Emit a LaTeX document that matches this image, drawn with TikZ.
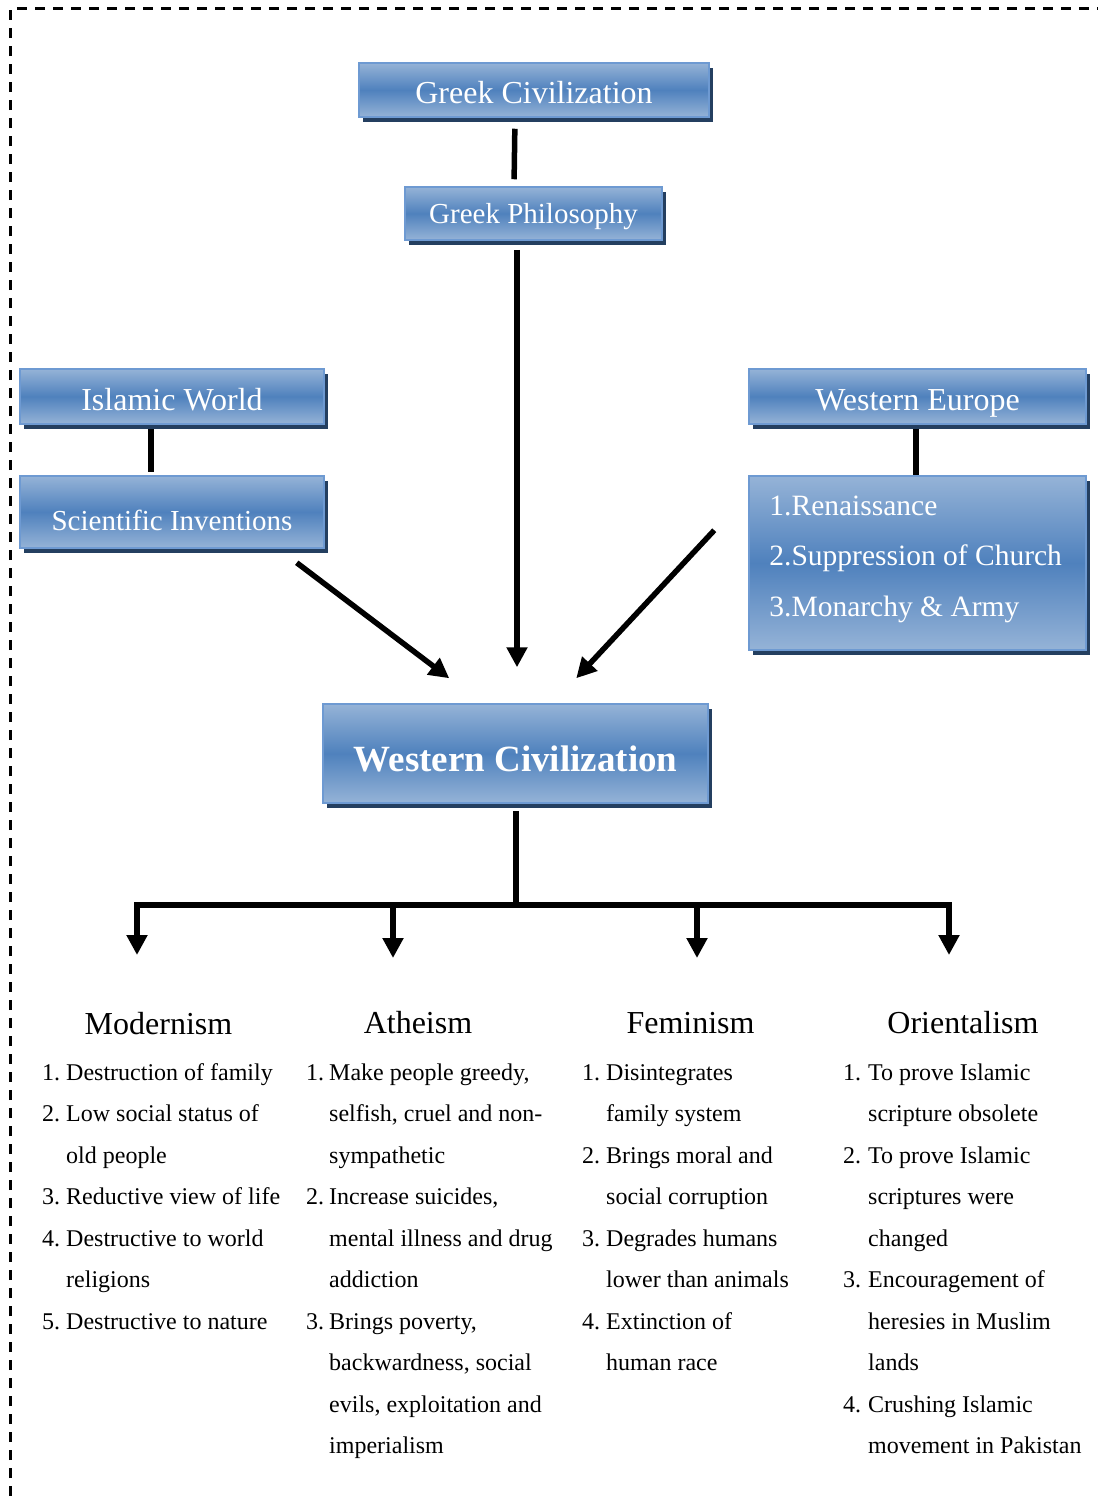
\documentclass[tikz,border=0pt]{standalone}
\usepackage{fontspec}
\setmainfont{Liberation Serif}
\usetikzlibrary{arrows.meta,shadows,calc}
\definecolor{bxlight}{HTML}{95B3D7}
\definecolor{bxdark}{HTML}{4F81BD}
\definecolor{bxedge}{HTML}{6E9AD2}
\definecolor{bxshadow}{HTML}{243F60}
\newcommand{\lstnum}[2][24pt]{\makebox[#1][l]{#2}}
\newcommand{\lstind}[1][24pt]{\hspace*{#1}}
\begin{document}
\begin{tikzpicture}[x=1pt,y=1pt,
  bluebox/.style={draw=bxedge, line width=1.5pt, top color=bxlight, bottom color=bxlight, middle color=bxdark,
    text=white, inner sep=0pt, text depth=0pt,
    general shadow={fill=bxshadow, shadow xshift=4pt, shadow yshift=-5pt}},
  conn/.style={line width=5.5pt},
  arr/.style={line width=5.5pt, -{Triangle[length=20pt,width=20pt]}},
  head/.style={font=\fontsize{32}{38}\selectfont, anchor=base, inner sep=0pt},
  lst/.style={font=\fontsize{24}{41.5}\selectfont, anchor=base west, inner sep=0pt},
  frame/.style={line width=3pt, dash pattern=on 10pt off 8pt}
]
\useasboundingbox (0,0) rectangle (1098,-1496);
\draw[frame] (10,-1496) -- (10,-9) -- (1098,-9);

% boxes
\node[bluebox, minimum width=350pt, minimum height=54pt, text height=27pt, font=\fontsize{32}{38}\selectfont] (gc) at (534,-90) {Greek Civilization};
\node[bluebox, minimum width=257pt, minimum height=53pt, text height=20pt, font=\fontsize{29}{34}\selectfont] (gp) at (533.5,-213.5) {Greek Philosophy};
\node[bluebox, minimum width=304pt, minimum height=55pt, text height=28pt, font=\fontsize{32}{38}\selectfont] (iw) at (172,-396.5) {Islamic World};
\node[bluebox, minimum width=304pt, minimum height=72pt, text height=37pt, font=\fontsize{29}{34}\selectfont] (si) at (172,-512) {Scientific Inventions};
\node[bluebox, minimum width=337pt, minimum height=55pt, text height=28pt, font=\fontsize{32}{38}\selectfont] (we) at (917.5,-396.5) {Western Europe};
\node[bluebox, minimum width=337pt, minimum height=174pt] (wel) at (917.5,-563) {};
\node[anchor=base west, inner sep=0pt, text=white, font=\fontsize{29.5}{50.5}\selectfont] (welt) at ([shift={(21pt,-40pt)}]wel.north west)
  {\parbox[t]{310pt}{\raggedright 1.Renaissance\\ 2.Suppression of Church\\ 3.Monarchy \& Army}};
\node[bluebox, minimum width=385pt, minimum height=99pt, text height=35pt, font=\fontsize{37}{44}\selectfont\bfseries] (wc) at (515.5,-753.5) {Western Civilization};

% connectors
\draw[conn, shorten <=11pt, shorten >=7pt] ([xshift=-19pt]gc.south) -- ([xshift=-19.5pt]gp.north);
\draw[arr, shorten <=9pt, shorten >=36pt] ([xshift=-16.5pt]gp.south) -- ([xshift=1.5pt]wc.north);
\draw[conn, shorten <=4pt, shorten >=3pt] ([xshift=-21pt]iw.south) -- ([xshift=-21pt]si.north);
\draw[conn, shorten <=4pt] ([xshift=-1.5pt]we.south) -- ([xshift=-1.5pt]wel.north);
\draw[arr] ([shift={(-28pt,-14pt)}]si.south east) -- ([shift={(127pt,25pt)}]wc.north west);
\draw[arr] ([shift={(-34pt,-55pt)}]wel.north west) -- ([shift={(254pt,25pt)}]wc.north west);

\coordinate (bar) at (516,-905);
\coordinate (tMod) at (137,-955);
\coordinate (tAth) at (393,-958);
\coordinate (tFem) at (697,-958);
\coordinate (tOri) at (949,-955);
\draw[conn, shorten <=7pt] ([xshift=0.5pt]wc.south) -- (bar);
\draw[arr] (bar) -| (tMod);
\draw[arr] (bar) -| (tAth);
\draw[arr] (bar) -| (tFem);
\draw[arr] (bar) -| (tOri);

% headings
\node[head] (hMod) at (158.5,-1034) {Modernism};
\node[head] (hAth) at (418,-1033) {Atheism};
\node[head] (hFem) at (690.5,-1033) {Feminism};
\node[head] (hOri) at (963,-1033) {Orientalism};

% lists
\node[lst] (lMod) at (42,-1080) {\parbox[t]{260pt}{\raggedright
\lstnum{1.}Destruction of family\\
\lstnum{2.}Low social status of\\
\lstind old people\\
\lstnum{3.}Reductive view of life\\
\lstnum{4.}Destructive to world\\
\lstind religions\\
\lstnum{5.}Destructive to nature}};

\node[lst] (lAth) at (306,-1080) {\parbox[t]{260pt}{\raggedright
\lstnum[23pt]{1.}Make people greedy,\\
\lstind[23pt]selfish, cruel and non-\\
\lstind[23pt]sympathetic\\
\lstnum[23pt]{2.}Increase suicides,\\
\lstind[23pt]mental illness and drug\\
\lstind[23pt]addiction\\
\lstnum[23pt]{3.}Brings poverty,\\
\lstind[23pt]backwardness, social\\
\lstind[23pt]evils, exploitation and\\
\lstind[23pt]imperialism}};

\node[lst] (lFem) at (582,-1080) {\parbox[t]{260pt}{\raggedright
\lstnum{1.}Disintegrates\\
\lstind family system\\
\lstnum{2.}Brings moral and\\
\lstind social corruption\\
\lstnum{3.}Degrades humans\\
\lstind lower than animals\\
\lstnum{4.}Extinction of\\
\lstind human race}};

\node[lst] (lOri) at (843,-1080) {\parbox[t]{250pt}{\raggedright
\lstnum[25pt]{1.}To prove Islamic\\
\lstind[25pt]scripture obsolete\\
\lstnum[25pt]{2.}To prove Islamic\\
\lstind[25pt]scriptures were\\
\lstind[25pt]changed\\
\lstnum[25pt]{3.}Encouragement of\\
\lstind[25pt]heresies in Muslim\\
\lstind[25pt]lands\\
\lstnum[25pt]{4.}Crushing Islamic\\
\lstind[25pt]movement in Pakistan}};
\end{tikzpicture}
\end{document}
